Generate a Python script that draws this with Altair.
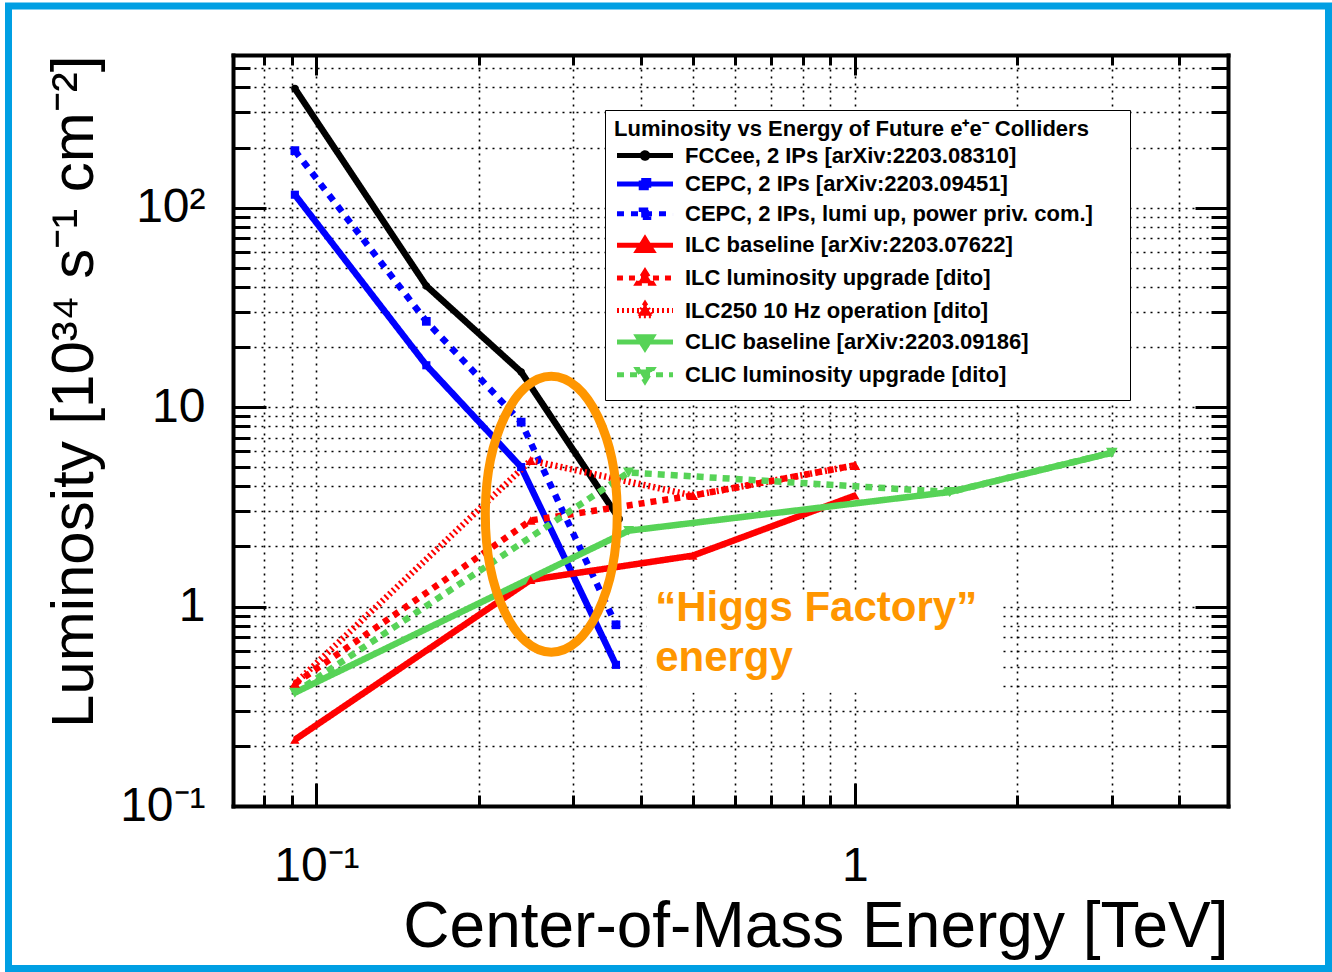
import altair as alt
import pandas as pd

FONT = "Liberation Sans"

# ---------------- data ----------------
series_names = [
    "FCCee, 2 IPs [arXiv:2203.08310]",
    "CEPC, 2 IPs [arXiv:2203.09451]",
    "CEPC, 2 IPs, lumi up, power priv. com.]",
    "ILC baseline [arXiv:2203.07622]",
    "ILC luminosity upgrade [dito]",
    "ILC250 10 Hz operation [dito]",
    "CLIC baseline [arXiv:2203.09186]",
    "CLIC luminosity upgrade [dito]",
]

fcc_energy = [0.0912, 0.16, 0.24, 0.365]
fcc_lumi = [395, 40.5, 15.0, 2.75]

cepc_energy = [0.0912, 0.16, 0.24, 0.36]
cepc_lumi = [116, 16.2, 5.0, 0.51]
cepc_up_lumi = [193, 26.9, 8.4, 0.81]

ilc_energy = [0.0912, 0.25, 0.5, 1.0]
ilc_lumi = [0.215, 1.36, 1.8, 3.6]
ilc_up_lumi = [0.41, 2.7, 3.6, 5.1]
ilc_10hz_lumi = [0.41, 5.4, 3.6, 5.1]

clic_energy = [0.0912, 0.38, 1.5, 3.0]
clic_lumi = [0.37, 2.4, 3.75, 5.9]
clic_up_lumi = [0.37, 4.7, 3.75, 5.9]

# annotation (Higgs-factory region)
ellipse_energy = [0.273]
ellipse_lumi = [2.9]
note_text = ["\u201cHiggs Factory\u201d\nenergy"]
note_energy = [0.4256]
note_lumi = [0.851]
note_box_energy = [0.41, 1.86]
note_box_lumi = [0.37, 1.2]

x_major = [0.1, 1]
x_minor = [0.08, 0.09, 0.2, 0.3, 0.4, 0.5, 0.6, 0.7, 0.8, 0.9, 2, 3, 4]
y_major = [0.1, 1, 10, 100]
y_minor = ([0.2, 0.3, 0.4, 0.5, 0.6, 0.7, 0.8, 0.9]
           + [2, 3, 4, 5, 6, 7, 8, 9]
           + [20, 30, 40, 50, 60, 70, 80, 90]
           + [200, 300, 400, 500])

# ---------------- styles ----------------
colors = ["#000000", "#0000FF", "#0000FF", "#FF0000", "#FF0000", "#FF0000", "#57D357", "#57D357"]
dashes = [[1, 0], [1, 0], [7, 7], [1, 0], [6, 6], [2, 3], [1, 0], [7, 6]]
shapes = ["circle", "square", "square", "triangle-up", "triangle-up", "triangle-up",
          "triangle-down", "triangle-down"]
msizes = [55, 130, 130, 320, 320, 320, 320, 320]

LINE = "M-0.96,0L3.71,0"
P_CIRC = LINE + "M1.145,0A0.23,0.23,0,1,0,1.605,0A0.23,0.23,0,1,0,1.145,0Z"
P_SQ = LINE + "M1.06,-0.31L1.69,-0.31L1.69,0.31L1.06,0.31Z"
P_TU = LINE + "M1.375,-0.52L1.98,0.44L0.77,0.44Z"
P_TD = LINE + "M1.375,0.52L1.98,-0.44L0.77,-0.44Z"
legend_paths = [P_CIRC, P_SQ, P_SQ, P_TU, P_TU, P_TU, P_TD, P_TD]

ORANGE = "#FF9600"
ELLIPSE = "M-0.478,0A0.478,1,0,1,0,0.478,0A0.478,1,0,1,0,-0.478,0Z"

# ---------------- tables ----------------
pairs = [
    (fcc_energy, fcc_lumi), (cepc_energy, cepc_lumi), (cepc_energy, cepc_up_lumi),
    (ilc_energy, ilc_lumi), (ilc_energy, ilc_up_lumi), (ilc_energy, ilc_10hz_lumi),
    (clic_energy, clic_lumi), (clic_energy, clic_up_lumi),
]
rows = []
for name, (es, ls) in zip(series_names, pairs):
    for i, (e, l) in enumerate(zip(es, ls)):
        rows.append({"series": name, "energy": e, "lumi": l, "idx": i})
df = pd.DataFrame(rows)

ell_df = pd.DataFrame({"energy": ellipse_energy, "lumi": ellipse_lumi})
note_df = pd.DataFrame({"energy": note_energy, "lumi": note_lumi, "label": note_text})
box_df = pd.DataFrame({"e0": [note_box_energy[0]], "e1": [note_box_energy[1]],
                       "l0": [note_box_lumi[0]], "l1": [note_box_lumi[1]]})

W, H = 995, 751
xscale = alt.Scale(type="log", domain=[0.07, 4.93], nice=False)
yscale = alt.Scale(type="log", domain=[0.1, 582], nice=False)

EXP = "round(log(datum.value)/LN10)"
LABEL_EXPR = (f"abs(log(datum.value)/LN10 - {EXP}) < 0.001 ? "
              f"({EXP} == -1 ? '10\u207b\u00b9' : {EXP} == 0 ? '1' : {EXP} == 1 ? '10' : '10\u00b2') : ''")

x_main = alt.Axis(
    orient="bottom", values=x_major + x_minor, labelExpr=LABEL_EXPR,
    grid=True, gridColor="black", gridDash=[2, 5], gridWidth=1.6, gridOpacity=1,
    ticks=False, tickSize=0, domain=False,
    labelFont=FONT, labelFontSize=48, labelColor="black", labelBaseline="alphabetic",
    labelPadding=74, labelFlush=False, labelOverlap=False, labelAlign="center",
    title="Center-of-Mass Energy [TeV]", titleFont=FONT, titleFontSize=64,
    titleFontWeight="normal", titleColor="black", titleX=W, titleY=140,
    titleAlign="right", titleBaseline="alphabetic", zindex=0,
)
y_main = alt.Axis(
    orient="left", values=y_major + y_minor, labelExpr=LABEL_EXPR,
    grid=True, gridColor="black", gridDash=[2, 5], gridWidth=1.6, gridOpacity=1,
    ticks=False, tickSize=0, domain=False,
    labelFont=FONT, labelFontSize=48, labelColor="black", labelAlign="right",
    labelBaseline="middle", labelPadding=28, labelOverlap=False, labelFlush=False,
    title="Luminosity [10\u00b3\u2074 s\u207b\u00b9 cm\u207b\u00b2]", titleFont=FONT,
    titleFontSize=60, titleFontWeight="normal", titleColor="black",
    titleAngle=270, titleX=-141, titleY=0, titleAlign="right", titleBaseline="alphabetic",
    zindex=0,
)


def tick_axis(orient, offset, values, size, frame=False):
    return alt.Axis(orient=orient, offset=offset, values=values, ticks=True,
                    tickSize=size, tickWidth=3, tickColor="black", labels=False,
                    domain=frame, domainColor="black", domainWidth=4, domainCap="square",
                    grid=False, title=None, zindex=2)


leg = alt.Legend(
    title="Luminosity vs Energy of Future e\u207ae\u207b Colliders\u2800\u2800",
    orient="none", legendX=372, legendY=55, direction="vertical",
    fillColor="white", strokeColor="black", padding=9,
    titleFont=FONT, titleFontSize=22, titleFontWeight="bold", titleColor="black",
    titlePadding=0, titleLimit=800,
    labelFont=FONT, labelFontSize=22, labelFontWeight="bold", labelColor="black",
    labelLimit=800, labelOffset=42,
    symbolSize=576, symbolStrokeWidth=5, symbolOpacity=1, rowPadding=0.6,
)

legend_layer = alt.Chart(df).transform_filter("false").mark_point(
    filled=True, opacity=1, strokeWidth=5
).encode(
    x=alt.X("energy:Q", scale=xscale, axis=x_main),
    y=alt.Y("lumi:Q", scale=yscale, axis=y_main),
    color=alt.Color("series:N", scale=alt.Scale(domain=series_names, range=colors), legend=leg),
    stroke=alt.Stroke("series:N", scale=alt.Scale(domain=series_names, range=colors), legend=leg),
    shape=alt.Shape("series:N", scale=alt.Scale(domain=series_names, range=legend_paths), legend=leg),
    strokeDash=alt.StrokeDash("series:N", scale=alt.Scale(domain=series_names, range=dashes), legend=leg),
)

box_layer = alt.Chart(box_df).mark_rect(color="white").encode(
    x=alt.X("e0:Q", scale=xscale, axis=tick_axis("top", -H, x_minor, 11, frame=True)),
    x2="e1:Q",
    y=alt.Y("l0:Q", scale=yscale, axis=tick_axis("right", -W, y_minor, 17, frame=True)),
    y2="l1:Q",
)

lines_layer = alt.Chart(df).mark_line(strokeWidth=6.5).encode(
    x=alt.X("energy:Q", scale=xscale, axis=tick_axis("top", -H, x_major, 23)),
    y=alt.Y("lumi:Q", scale=yscale, axis=tick_axis("right", -W, y_major, 33)),
    color=alt.Color("series:N", scale=alt.Scale(domain=series_names, range=colors), legend=None),
    strokeDash=alt.StrokeDash("series:N", scale=alt.Scale(domain=series_names, range=dashes), legend=None),
    order=alt.Order("idx:Q"),
)

points_layer = alt.Chart(df).mark_point(filled=True, opacity=1).encode(
    x=alt.X("energy:Q", scale=xscale, axis=tick_axis("bottom", -H, x_minor, 10, frame=True)),
    y=alt.Y("lumi:Q", scale=yscale, axis=tick_axis("left", -W, y_minor, 17, frame=True)),
    color=alt.Color("series:N", scale=alt.Scale(domain=series_names, range=colors), legend=None),
    shape=alt.Shape("series:N", scale=alt.Scale(domain=series_names, range=shapes), legend=None),
    size=alt.Size("series:O", scale=alt.Scale(domain=series_names, range=msizes), legend=None),
)

ellipse_layer = alt.Chart(ell_df).mark_point(
    shape=ELLIPSE, size=76176, filled=False, stroke=ORANGE, color=ORANGE,
    strokeWidth=9, opacity=1
).encode(
    x=alt.X("energy:Q", scale=xscale, axis=tick_axis("bottom", -H, x_major, 20)),
    y=alt.Y("lumi:Q", scale=yscale, axis=tick_axis("left", -W, y_major, 33)),
)

text_layer = alt.Chart(note_df).mark_text(
    align="left", baseline="alphabetic", font=FONT, fontSize=42, fontWeight="bold",
    color=ORANGE, lineBreak="\n", lineHeight=50
).encode(
    x=alt.X("energy:Q", scale=xscale, axis=None),
    y=alt.Y("lumi:Q", scale=yscale, axis=None),
    text="label:N",
)

frame_layer = alt.Chart(ell_df).mark_rect(
    fillOpacity=0, stroke="#009FE3", strokeWidth=7
).encode(
    x=alt.value(-224.5), x2=alt.value(1095.5),
    y=alt.value(-49), y2=alt.value(913.5),
)

chart = alt.layer(
    legend_layer, box_layer, lines_layer, points_layer, ellipse_layer, text_layer, frame_layer
).resolve_scale(
    color="independent", shape="independent", strokeDash="independent",
    size="independent", stroke="independent",
).resolve_axis(
    x="independent", y="independent",
).resolve_legend(
    color="independent", shape="independent", strokeDash="independent",
    size="independent", stroke="independent",
).properties(
    width=W, height=H,
    padding={"left": 5, "top": 2, "right": 0, "bottom": 0},
    background="white",
).configure_view(
    stroke="black", strokeWidth=4,
).configure_legend(
    strokeWidth=3,
).configure(font=FONT)

chart.save("out.html", embed_options={"renderer": "svg", "actions": False})
